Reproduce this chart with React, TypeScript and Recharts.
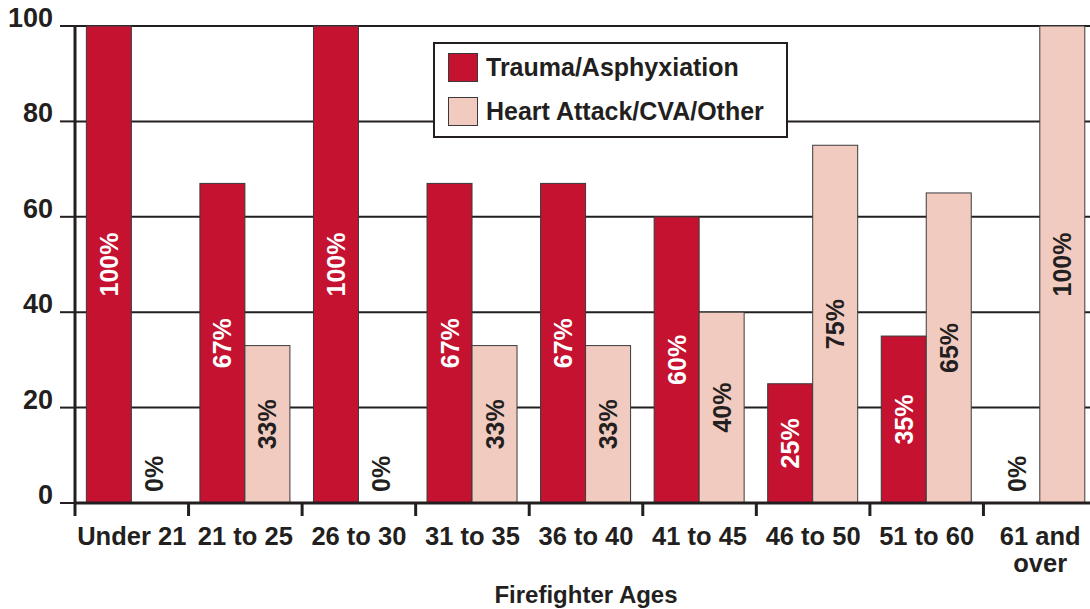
import { BarChart, Bar, XAxis, YAxis, CartesianGrid, Legend } from 'recharts'

const categories = ['Under 21', '21 to 25', '26 to 30', '31 to 35', '36 to 40', '41 to 45', '46 to 50', '51 to 60', '61 and over']
const traumaValues = [100, 67, 100, 67, 67, 60, 25, 35, 0]
const heartValues = [0, 33, 0, 33, 33, 40, 75, 65, 100]
const seriesNames = ['Trauma/Asphyxiation', 'Heart Attack/CVA/Other']
const yTicks = [0, 20, 40, 60, 80, 100]

const data = categories.map((name, i) => ({
  name,
  trauma: traumaValues[i],
  heart: heartValues[i],
}))

const FONT = '"Liberation Sans", Arial, sans-serif'
const INK = '#231f20'
const RED = '#c41230'
const PINK = '#f2cbc0'
const BAR_STROKE = '#3a3a3a'

const CHART_W = 1097
const CHART_H = 609
const Y_AXIS_W = 75
const MARGIN = { top: 26, right: 0, left: 0, bottom: 0 }
const HALF_BAND = (CHART_W - Y_AXIS_W) / categories.length / 2

function XTick(props: any) {
  const { x, y, payload } = props
  const text: string = payload.value
  const words = text.split(' ')
  const lines = text.length > 10 ? [words.slice(0, -1).join(' '), words[words.length - 1]] : [text]
  return (
    <g>
      <line x1={x - HALF_BAND} x2={x - HALF_BAND} y1={y} y2={y + 13} stroke={INK} strokeWidth={3} />
      {lines.map((l, i) => (
        <text
          key={i}
          x={x}
          y={y + 42 + i * 27}
          textAnchor="middle"
          fontFamily={FONT}
          fontWeight="bold"
          fontSize={25.5}
          fill={INK}
        >
          {l}
        </text>
      ))}
    </g>
  )
}

function YTick(props: any) {
  const { x, y, payload } = props
  return (
    <text x={x} y={y + 1} textAnchor="end" fontFamily={FONT} fontWeight="bold" fontSize={27} fill={INK}>
      {payload.value}
    </text>
  )
}

// draws the bar and its rotated percentage label; zero bars only get the label
function makeBarShape(dataKey: string, fill: string, labelColor: string) {
  return function BarShape(props: any) {
    const { x, y, width, height, payload } = props
    const value = payload[dataKey]
    const cx = x + width / 2
    const zero = !value
    const cy = zero ? y + height - 11 : y + height / 2
    return (
      <g>
        {!zero && (
          <rect x={x} y={y} width={width} height={height} fill={fill} stroke={BAR_STROKE} strokeWidth={1} />
        )}
        <text
          x={cx}
          y={cy}
          transform={`rotate(-90 ${cx} ${cy})`}
          textAnchor={zero ? 'start' : 'middle'}
          dominantBaseline="central"
          fontFamily={FONT}
          fontWeight="bold"
          fontSize={25}
          fill={zero ? INK : labelColor}
        >
          {value}%
        </text>
      </g>
    )
  }
}

function LegendBox(props: any) {
  const payload = [...(props.payload || [])].sort(
    (a: any, b: any) => seriesNames.indexOf(a.value) - seriesNames.indexOf(b.value)
  )
  return (
    <div
      style={{
        width: 355,
        height: 96,
        boxSizing: 'border-box',
        border: `2px solid ${INK}`,
        background: '#fff',
        padding: '9px 0 0 13px',
        fontFamily: FONT,
      }}
    >
      {payload.map((entry: any, i: number) => (
        <div key={i} style={{ display: 'flex', alignItems: 'center', height: 29, marginBottom: 15 }}>
          <div
            style={{
              width: 30,
              height: 29,
              boxSizing: 'border-box',
              background: entry.color,
              border: `1px solid ${BAR_STROKE}`,
              marginRight: 8,
            }}
          />
          <span style={{ fontSize: 25, fontWeight: 'bold', color: INK }}>{entry.value}</span>
        </div>
      ))}
    </div>
  )
}

export default function App() {
  return (
    <div style={{ position: 'absolute', left: 0, top: 0, width: 1090, height: CHART_H, overflow: 'hidden', background: '#fff' }}>
      <BarChart width={CHART_W} height={CHART_H} data={data} margin={MARGIN} barCategoryGap="10%" barGap={0}>
        <CartesianGrid vertical={false} stroke={INK} strokeWidth={2} />
        <XAxis
          dataKey="name"
          interval={0}
          height={CHART_H - 503}
          tickSize={0}
          tickMargin={0}
          tickLine={false}
          axisLine={{ stroke: INK, strokeWidth: 3 }}
          tick={<XTick />}
          label={{
            content: ({ viewBox }: any) => (
              <text
                x={viewBox.x + viewBox.width / 2}
                y={viewBox.y + 100}
                textAnchor="middle"
                fontFamily={FONT}
                fontWeight="bold"
                fontSize={24}
                fill={INK}
              >
                Firefighter Ages
              </text>
            ),
          }}
        />
        <YAxis
          width={Y_AXIS_W}
          domain={[0, 100]}
          ticks={yTicks}
          interval={0}
          tickSize={15}
          tickMargin={7}
          tickLine={{ stroke: INK, strokeWidth: 2 }}
          axisLine={{ stroke: INK, strokeWidth: 3 }}
          tick={<YTick />}
        />
        <Legend
          layout="vertical"
          align="center"
          verticalAlign="middle"
          content={<LegendBox />}
          wrapperStyle={{ left: 433, top: 42, width: 355, height: 96 }}
        />
        <Bar
          dataKey="trauma"
          name={seriesNames[0]}
          fill={RED}
          minPointSize={1}
          shape={makeBarShape('trauma', RED, '#ffffff')}
          isAnimationActive={false}
        />
        <Bar
          dataKey="heart"
          name={seriesNames[1]}
          fill={PINK}
          minPointSize={1}
          shape={makeBarShape('heart', PINK, INK)}
          isAnimationActive={false}
        />
      </BarChart>
    </div>
  )
}
